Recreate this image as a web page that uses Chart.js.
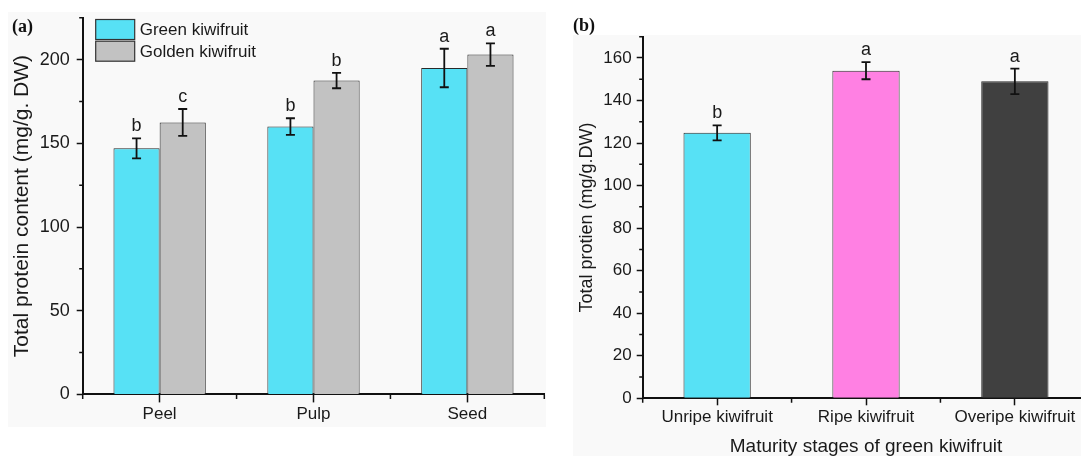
<!DOCTYPE html>
<html>
<head>
<meta charset="utf-8">
<script src="https://cdn.jsdelivr.net/npm/chart.js@4.4.1/dist/chart.umd.min.js"></script>
<style>
html, body { margin: 0; padding: 0; background: #fff; overflow: hidden; width: 1081px; height: 456px; }
.bg { position: absolute; background: #f9f9f9; }
#bgA { left: 8px; top: 12px; width: 538px; height: 415px; }
#bgB { left: 573px; top: 35px; width: 508px; height: 421px; }
canvas { position: absolute; top: 0; }
#chartA { left: 0; }
#chartB { left: 560px; }
.tag { position: absolute; font: bold 18px "Liberation Serif", serif; color: #111; line-height: 19px; }
</style>
</head>
<body>
<div class="bg" id="bgA"></div>
<div class="bg" id="bgB"></div>
<canvas id="chartA" width="560" height="456"></canvas>
<canvas id="chartB" width="540" height="460"></canvas>
<div class="tag" style="left:12px; top:17px;">(a)</div>
<div class="tag" style="left:573px; top:16px;">(b)</div>
<script>
// panel (a): fruit parts
const parts = ['Peel', 'Pulp', 'Seed'];
const greenMeans = [147, 160, 195];
const greenErrors = [6, 5, 11.5];
const greenLetters = ['b', 'b', 'a'];
const goldenMeans = [162.5, 187.5, 203];
const goldenErrors = [8, 4.6, 6.7];
const goldenLetters = ['c', 'b', 'a'];
const yMajorA = [0, 50, 100, 150, 200];
const yMinorA = [25, 75, 125, 175, 225];

// panel (b): maturity stages
const stages = ['Unripe kiwifruit', 'Ripe kiwifruit', 'Overipe kiwifruit'];
const stageMeans = [124.8, 154, 149];
const stageErrors = [3.5, 4, 6];
const stageLetters = ['b', 'a', 'a'];
const yMajorB = [0, 20, 40, 60, 80, 100, 120, 140, 160];
const yMinorB = [10, 30, 50, 70, 90, 110, 130, 150, 170];

Chart.defaults.font.family = '"Liberation Sans", Arial, sans-serif';
Chart.defaults.color = '#1a1a1a';
Chart.defaults.animation = false;

const errorBars = {
	id: 'errorBars',
	afterDatasetsDraw(chart) {
		const ctx = chart.ctx;
		const y = chart.scales.y;
		chart.data.datasets.forEach((ds, i) => {
			chart.getDatasetMeta(i).data.forEach((bar, j) => {
				const top = y.getPixelForValue(ds.data[j] + ds.errors[j]);
				const bot = y.getPixelForValue(ds.data[j] - ds.errors[j]);
				ctx.save();
				ctx.strokeStyle = '#111';
				ctx.lineWidth = 1.8;
				ctx.beginPath();
				ctx.moveTo(bar.x, top); ctx.lineTo(bar.x, bot);
				ctx.moveTo(bar.x - 4.5, top); ctx.lineTo(bar.x + 4.5, top);
				ctx.moveTo(bar.x - 4.5, bot); ctx.lineTo(bar.x + 4.5, bot);
				ctx.stroke();
				ctx.fillStyle = '#1a1a1a';
				ctx.font = '18px "Liberation Sans", Arial';
				ctx.textAlign = 'center';
				ctx.textBaseline = 'alphabetic';
				ctx.fillText(ds.letters[j], bar.x, top - 7);
				ctx.restore();
			});
		});
	}
};

const minorTicks = {
	id: 'minorTicks',
	afterDraw(chart, args, opts) {
		const {ctx, scales: {x, y}} = chart;
		ctx.save();
		ctx.strokeStyle = '#111';
		ctx.lineWidth = 1.5;
		ctx.beginPath();
		opts.values.forEach(v => {
			const py = y.getPixelForValue(v);
			ctx.moveTo(y.right - 3.5, py);
			ctx.lineTo(y.right, py);
		});
		for (let i = 0; i <= x.ticks.length; i++) {
			const px = x.getPixelForValue(i - 0.5);
			ctx.moveTo(px, x.top);
			ctx.lineTo(px, x.top + 4.5);
		}
		ctx.stroke();
		ctx.restore();
	}
};

const boxLegend = {
	id: 'boxLegend',
	afterDraw(chart, args, opts) {
		const ctx = chart.ctx;
		chart.data.datasets.forEach((ds, i) => {
			const top = opts.top + i * opts.rowHeight;
			ctx.save();
			ctx.fillStyle = ds.backgroundColor;
			ctx.fillRect(opts.left, top, opts.boxWidth, opts.boxHeight);
			ctx.strokeStyle = '#333';
			ctx.lineWidth = 1.2;
			ctx.strokeRect(opts.left, top, opts.boxWidth, opts.boxHeight);
			ctx.fillStyle = '#1a1a1a';
			ctx.font = '17px "Liberation Sans", Arial';
			ctx.textBaseline = 'middle';
			ctx.fillText(ds.label, opts.left + opts.boxWidth + 5, top + opts.boxHeight / 2 + 1);
			ctx.restore();
		});
	}
};

function yAxis(max, majors, width, fontSize, pad, title, titleSize, titlePad) {
	return {
		min: 0,
		max: max,
		afterBuildTicks: s => { s.ticks = majors.map(v => ({value: v})); },
		afterFit: s => { s.width = width; },
		ticks: { font: { size: fontSize }, padding: pad, color: '#1a1a1a' },
		grid: { drawOnChartArea: false, tickLength: 6, tickWidth: 1.5, tickColor: '#111' },
		border: { color: '#111', width: 2 },
		title: { display: true, text: title, font: { size: titleSize }, color: '#1a1a1a', padding: { top: titlePad, bottom: 0 } }
	};
}

new Chart(document.getElementById('chartA'), {
	type: 'bar',
	data: {
		labels: parts,
		datasets: [{
			label: 'Green kiwifruit',
			data: greenMeans,
			errors: greenErrors,
			letters: greenLetters,
			backgroundColor: '#57e1f5',
			borderColor: '#2a2a2a',
			borderWidth: 1
		}, {
			label: 'Golden kiwifruit',
			data: goldenMeans,
			errors: goldenErrors,
			letters: goldenLetters,
			backgroundColor: '#c2c2c2',
			borderColor: '#2a2a2a',
			borderWidth: 1
		}]
	},
	options: {
		responsive: false,
		layout: { padding: { left: 0, right: 15.7, top: 13, bottom: 0 } },
		datasets: { bar: { categoryPercentage: 0.6, barPercentage: 1 } },
		scales: {
			x: {
				afterFit: s => { s.height = 456 - 394.4; },
				ticks: { font: { size: 17 }, padding: 2, color: '#1a1a1a' },
				grid: { offset: false, drawOnChartArea: false, tickLength: 8, tickWidth: 1.5, tickColor: '#111' },
				border: { color: '#111', width: 2 }
			},
			y: yAxis(225, yMajorA, 82.7, 18, 7, 'Total protein content (mg/g. DW)', 21, 10)
		},
		plugins: {
			legend: { display: false },
			tooltip: { enabled: false },
			minorTicks: { values: yMinorA },
			boxLegend: { left: 95.7, top: 19.5, boxWidth: 39, boxHeight: 20, rowHeight: 21.7 }
		}
	},
	plugins: [errorBars, minorTicks, boxLegend]
});

new Chart(document.getElementById('chartB'), {
	type: 'bar',
	data: {
		labels: stages,
		datasets: [{
			label: 'Total protien',
			data: stageMeans,
			errors: stageErrors,
			letters: stageLetters,
			backgroundColor: ['#57e1f5', '#ff80e3', '#404040'],
			borderColor: '#2a2a2a',
			borderWidth: 1
		}]
	},
	options: {
		responsive: false,
		layout: { padding: { left: 0, right: 10.7, top: 36.7, bottom: 0 } },
		datasets: { bar: { categoryPercentage: 0.452, barPercentage: 1 } },
		scales: {
			x: {
				afterFit: s => { s.height = 460 - 398.3; },
				ticks: { font: { size: 17 }, padding: 1.5, color: '#1a1a1a' },
				grid: { offset: false, drawOnChartArea: false, tickLength: 7, tickWidth: 1.5, tickColor: '#111' },
				border: { color: '#111', width: 2 },
				title: { display: true, text: 'Maturity stages of green kiwifruit', font: { size: 19 }, color: '#1a1a1a', padding: { top: 0, bottom: 2 } }
			},
			y: yAxis(170, yMajorB, 82.7, 17, 5, 'Total protien (mg/g.DW)', 18, 16.4)
		},
		plugins: {
			legend: { display: false },
			tooltip: { enabled: false },
			minorTicks: { values: yMinorB }
		}
	},
	plugins: [errorBars, minorTicks]
});
</script>
</body>
</html>
